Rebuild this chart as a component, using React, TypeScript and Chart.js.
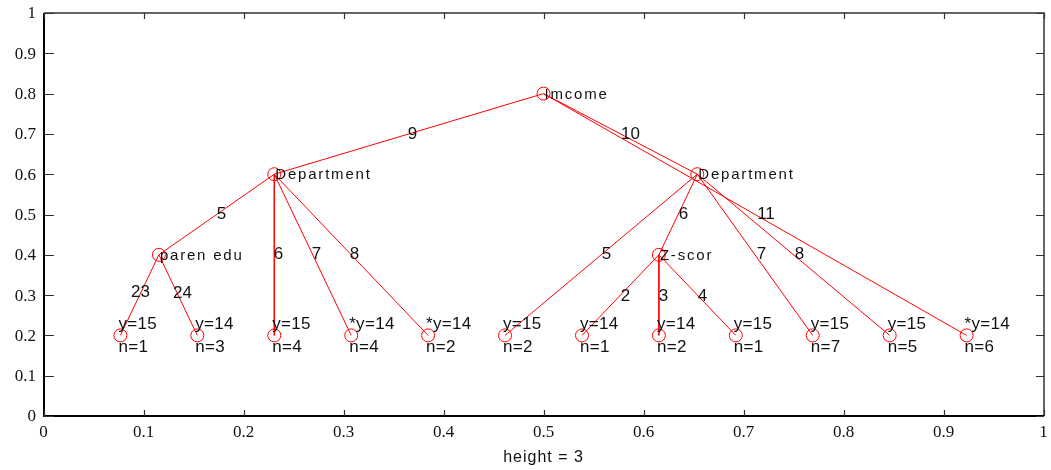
import React, { useEffect, useRef } from "react";
import { Chart, registerables } from "chart.js";

Chart.register(...registerables);

// Node positions (data coordinates)
const nodeX = [0.5, 0.2308, 0.6538, 0.1154, 0.6154, 0.0769, 0.1538, 0.2308, 0.3077, 0.3846, 0.4615, 0.5385, 0.6154, 0.6923, 0.7692, 0.8462, 0.9231];
const nodeY = [0.8, 0.6, 0.6, 0.4, 0.4, 0.2, 0.2, 0.2, 0.2, 0.2, 0.2, 0.2, 0.2, 0.2, 0.2, 0.2, 0.2];
const innerLabels = ["Imcome", "Department", "Department", "paren edu", "Z-scor"];
const leafYLabels = ["y=15", "y=14", "y=15", "*y=14", "*y=14", "y=15", "y=14", "y=14", "y=15", "y=15", "y=15", "*y=14"];
const leafNLabels = ["n=1", "n=3", "n=4", "n=4", "n=2", "n=2", "n=1", "n=2", "n=1", "n=7", "n=5", "n=6"];

// Edges (parent index -> child index)
const edgeFrom = [0, 0, 0, 1, 1, 1, 1, 3, 3, 2, 2, 2, 2, 4, 4, 4];
const edgeTo = [1, 2, 16, 3, 7, 8, 9, 5, 6, 10, 4, 14, 15, 11, 12, 13];
const edgeLabels = ["9", "10", "11", "5", "6", "7", "8", "23", "24", "5", "6", "7", "8", "2", "3", "4"];
const edgeLabelX = [0.369, 0.587, 0.7225, 0.178, 0.235, 0.273, 0.311, 0.097, 0.139, 0.563, 0.64, 0.718, 0.756, 0.582, 0.62, 0.659];
const edgeLabelY = [0.7, 0.7, 0.5, 0.5, 0.4, 0.4, 0.4, 0.307, 0.305, 0.4, 0.5, 0.4, 0.4, 0.297, 0.297, 0.297];

// Axis ticks
const xTicks = [0, 0.1, 0.2, 0.3, 0.4, 0.5, 0.6, 0.7, 0.8, 0.9, 1];
const xTickLabels = ["0", "0.1", "0.2", "0.3", "0.4", "0.5", "0.6", "0.7", "0.8", "0.9", "1"];
const yTicks = [0, 0.1, 0.2, 0.3, 0.4, 0.5, 0.6, 0.7, 0.8, 0.9, 1];
const yTickLabels = ["0", "0.1", "0.2", "0.3", "0.4", "0.5", "0.6", "0.7", "0.8", "0.9", "1"];
const xAxisTitle = "height = 3";

const decorPlugin = {
  id: "decor",
  afterDraw(chart: any) {
    const ctx: CanvasRenderingContext2D = chart.ctx;
    const xs = chart.scales.x;
    const ys = chart.scales.y;
    const a = chart.chartArea;
    const L = Math.round(a.left);
    const R = Math.round(a.right);
    const T = Math.round(a.top);
    const B = Math.round(a.bottom);
    ctx.save();

    // Frame
    ctx.strokeStyle = "#333";
    ctx.lineWidth = 1.5;
    ctx.beginPath();
    ctx.moveTo(L, T);
    ctx.lineTo(R, T);
    ctx.lineTo(R, B);
    ctx.stroke();
    ctx.strokeStyle = "#000";
    ctx.lineWidth = 2;
    ctx.beginPath();
    ctx.moveTo(L, T);
    ctx.lineTo(L, B);
    ctx.lineTo(R, B);
    ctx.stroke();

    // Inner ticks
    ctx.strokeStyle = "#333";
    ctx.lineWidth = 1.2;
    const tl = 6;
    xTicks.forEach((v) => {
      const px = Math.round(xs.getPixelForValue(v)) + 0.5;
      ctx.beginPath();
      ctx.moveTo(px, B);
      ctx.lineTo(px, B - tl);
      ctx.moveTo(px, T);
      ctx.lineTo(px, T + tl);
      ctx.stroke();
    });
    yTicks.forEach((v) => {
      const py = Math.round(ys.getPixelForValue(v)) + 0.5;
      ctx.beginPath();
      ctx.moveTo(L, py);
      ctx.lineTo(L + tl + 4, py);
      ctx.moveTo(R, py);
      ctx.lineTo(R - tl - 2, py);
      ctx.stroke();
    });

    // Tick labels
    ctx.fillStyle = "#111";
    ctx.font = "17px 'Liberation Serif', serif";
    ctx.textBaseline = "middle";
    ctx.textAlign = "center";
    xTicks.forEach((v, i) => {
      ctx.fillText(xTickLabels[i], xs.getPixelForValue(v), B + 17);
    });
    ctx.textAlign = "right";
    yTicks.forEach((v, i) => {
      ctx.fillText(yTickLabels[i], L - 8, ys.getPixelForValue(v) + 1);
    });

    // Axis title
    ctx.textAlign = "center";
    ctx.font = "16px 'Liberation Sans', sans-serif";
    (ctx as any).letterSpacing = "1px";
    ctx.fillText(xAxisTitle, xs.getPixelForValue(0.5), B + 42);

    // Inner node labels
    ctx.textAlign = "left";
    ctx.font = "15px 'Liberation Sans', sans-serif";
    (ctx as any).letterSpacing = "1.8px";
    innerLabels.forEach((t, i) => {
      ctx.fillText(t, xs.getPixelForValue(nodeX[i]) + 1, ys.getPixelForValue(nodeY[i]) + 1);
    });

    // Leaf labels
    ctx.font = "17px 'Liberation Sans', sans-serif";
    (ctx as any).letterSpacing = "0.3px";
    leafYLabels.forEach((t, i) => {
      const k = i + innerLabels.length;
      const px = xs.getPixelForValue(nodeX[k]) - 2;
      const py = ys.getPixelForValue(nodeY[k]);
      ctx.fillText(t, px, py - 11);
      ctx.fillText(leafNLabels[i], px, py + 12);
    });

    // Edge labels
    ctx.textAlign = "center";
    ctx.font = "17px 'Liberation Sans', sans-serif";
    (ctx as any).letterSpacing = "0px";
    edgeLabels.forEach((t, i) => {
      ctx.fillText(t, xs.getPixelForValue(edgeLabelX[i]), ys.getPixelForValue(edgeLabelY[i]));
    });

    ctx.restore();
  },
};

export default function App() {
  const ref = useRef<HTMLCanvasElement | null>(null);
  useEffect(() => {
    document.body.style.margin = "0";
    const canvas = ref.current;
    if (!canvas) return;
    const edgeSets = edgeFrom.map((f, i) => ({
      type: "scatter" as const,
      data: [
        { x: nodeX[f], y: nodeY[f] },
        { x: nodeX[edgeTo[i]], y: nodeY[edgeTo[i]] },
      ],
      showLine: true,
      borderColor: "#ff0000",
      borderWidth: 1,
      pointRadius: 0,
      fill: false,
    }));
    const nodeSet = {
      type: "scatter" as const,
      data: nodeX.map((x, i) => ({ x, y: nodeY[i] })),
      showLine: false,
      pointStyle: "circle",
      pointRadius: 6.5,
      borderColor: "#ff0000",
      backgroundColor: "rgba(0,0,0,0)",
      borderWidth: 1,
    };
    const chart = new Chart(canvas, {
      type: "scatter",
      data: { datasets: [...edgeSets, nodeSet] as any },
      options: {
        animation: false,
        responsive: false,
        devicePixelRatio: 1,
        layout: { padding: { left: 43.5, right: 6.5, top: 13, bottom: 54 } },
        plugins: { legend: { display: false }, tooltip: { enabled: false } },
        scales: {
          x: { type: "linear", min: 0, max: 1, display: false },
          y: { type: "linear", min: 0, max: 1, display: false },
        },
      },
      plugins: [decorPlugin],
    });
    return () => chart.destroy();
  }, []);
  return (
    <div style={{ width: 1051, height: 470, background: "#fff" }}>
      <canvas ref={ref} width={1051} height={470} style={{ display: "block" }} />
    </div>
  );
}
